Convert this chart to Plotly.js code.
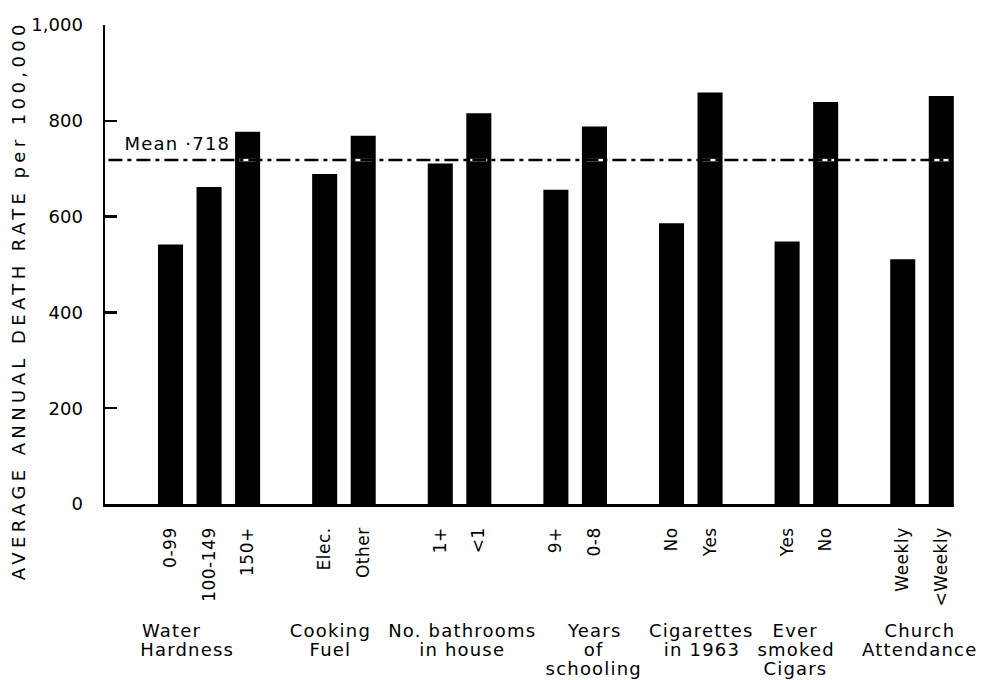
<!DOCTYPE html>
<html>
<head>
<meta charset="utf-8">
<script src="https://cdn.plot.ly/plotly-3.0.1.min.js"></script>
<style>
  html, body { margin: 0; padding: 0; background: #fff; }
  #chart { width: 981px; height: 680px; }
  g.annotation text { letter-spacing: 1.2px; }
  g.annotation[data-index="0"] text { letter-spacing: 4.4px; }
  .xtick text { letter-spacing: 0.5px; }
</style>
</head>
<body>
<div id="chart"></div>
<script>
// ---- data ----
const groupNames = [
  ["Water", "Hardness"],
  ["Cooking", "Fuel"],
  ["No. bathrooms", "in house"],
  ["Years", "of", "schooling"],
  ["Cigarettes", "in 1963"],
  ["Ever", "smoked", "Cigars"],
  ["Church", "Attendance"]
];
const groupCategories = [
  ["0-99", "100-149", "150+"],
  ["Elec.", "Other"],
  ["1+", "<1"],
  ["9+", "0-8"],
  ["No", "Yes"],
  ["Yes", "No"],
  ["Weekly", "<Weekly"]
];
const groupValues = [
  [542, 662, 777],
  [689, 769],
  [711, 816],
  [656, 788],
  [586, 859],
  [548, 839],
  [511, 852]
];
const meanRate = 718;
const meanLabel = "Mean ·718";
const yTitle = "AVERAGE ANNUAL DEATH RATE per 100,000";
const yTickVals = [0, 200, 400, 600, 800, 1000];
const yTickText = ["0", "200", "400", "600", "800", "1,000"];

// ---- layout tuning (positions, not data) ----
const groupLabelShift = [-1.71, -0.36, 0.07, 0.5, 0.28, -0.28, -0.06];
const groupLabelAnchor = ["left", "center", "center", "center", "center", "center", "center"];

// ---- build positions: one empty slot between groups ----
const xs = [], ys = [], tickText = [], groupCenters = [];
let pos = 0;
groupCategories.forEach((cats, g) => {
  const start = pos;
  cats.forEach((c, i) => {
    xs.push(pos);
    ys.push(groupValues[g][i]);
    tickText.push(c.replace(/</g, "&lt;"));
    pos++;
  });
  groupCenters.push((start + pos - 1) / 2);
  pos++;
});

const esc = s => s.replace(/</g, "&lt;");

const bars = {
  type: "bar",
  x: xs,
  y: ys,
  marker: { color: "#000", line: { width: 0 } },
  hoverinfo: "skip",
  showlegend: false
};

// white segment under the dash-dot mean line, inside tall bars
const wx = [], wy = [];
xs.forEach((x, i) => {
  if (ys[i] > meanRate) {
    wx.push(x - 0.22, x + 0.22, null);
    wy.push(meanRate, meanRate, null);
  }
});
const whiteSeg = {
  type: "scatter", mode: "lines", x: wx, y: wy,
  line: { color: "#fff", width: 2.5 },
  hoverinfo: "skip", showlegend: false
};

const annotations = [];
annotations.push({
  text: yTitle, textangle: -90,
  xref: "paper", x: -0.102, xanchor: "center",
  yref: "paper", y: 0.425, yanchor: "middle",
  showarrow: false, font: { size: 18, color: "#000" }
});
annotations.push({
  text: meanLabel,
  xref: "paper", x: 0.027, xanchor: "left",
  yref: "y", y: meanRate, yanchor: "bottom", yshift: 4,
  showarrow: false, font: { size: 18, color: "#000" }
});
const pxPerPaper = 479;
groupNames.forEach((lines, g) => {
  lines.forEach((ln, i) => {
    annotations.push({
      text: esc(ln),
      xref: "x", x: groupCenters[g] + groupLabelShift[g], xanchor: groupLabelAnchor[g],
      yref: "paper", y: -(126 + 19 * i) / pxPerPaper, yanchor: "middle",
      showarrow: false, font: { size: 18, color: "#000" }
    });
  });
});

const layout = {
  width: 981, height: 680,
  margin: { l: 105, r: 27, t: 25, b: 176 },
  paper_bgcolor: "#fff", plot_bgcolor: "#fff",
  font: { family: "DejaVu Sans", color: "#000" },
  bargap: 0.35,
  xaxis: {
    range: [-1.7, 20.33],
    tickvals: xs, ticktext: tickText, tickangle: -90,
    ticks: "", showline: true, linewidth: 2.5, linecolor: "#000",
    showgrid: false, zeroline: false,
    tickfont: { size: 17, color: "#000" },
    ticklabelstandoff: 14
  },
  yaxis: {
    range: [0, 1000],
    tickvals: yTickVals, ticktext: yTickText,
    ticks: "inside", ticklen: 12, tickwidth: 2.5, tickcolor: "#000",
    showline: true, linewidth: 2.5, linecolor: "#000",
    showgrid: false, zeroline: false,
    tickfont: { size: 18, color: "#000" },
    ticklabelstandoff: 16
  },
  shapes: [{
    type: "line", xref: "paper", x0: 0.004, x1: 0.998,
    yref: "y", y0: meanRate, y1: meanRate,
    line: { color: "#000", width: 2.5, dash: "14px,5px,4px,5px" }
  }],
  annotations: annotations
};

Plotly.newPlot("chart", [bars, whiteSeg], layout, { displayModeBar: false, staticPlot: true });
</script>
</body>
</html>
